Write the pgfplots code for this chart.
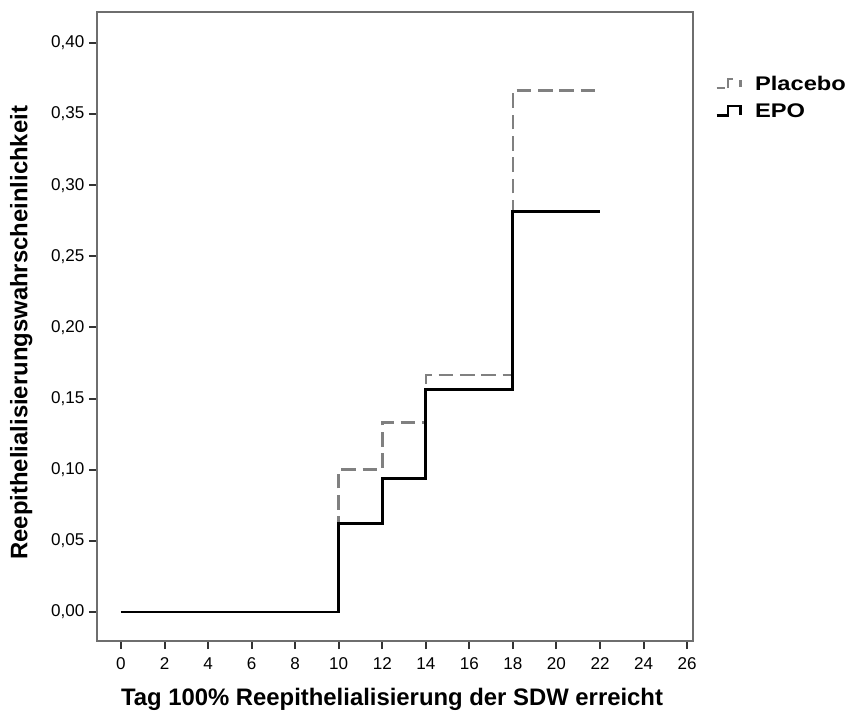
\documentclass[border=0pt]{standalone}
\usepackage{fontspec}
\setmainfont{Liberation Sans}
\newfontfamily\legfont{Liberation Sans}[FakeStretch=1.2]
\usepackage{pgfplots}
\pgfplotsset{compat=1.18}
\definecolor{plgray}{RGB}{128,128,128}
\definecolor{framegray}{RGB}{110,110,110}
\begin{document}
\begin{tikzpicture}
\useasboundingbox (-72.75pt,-54pt) rectangle (566.25pt,480.75pt);
\begin{axis}[
  scale only axis, width=447pt, height=471.75pt,
  xmin=-1.1, xmax=26.27, ymin=-0.0204, ymax=0.4218,
  xtick={0,2,4,6,8,10,12,14,16,18,20,22,24,26},
  ytick={0,0.05,0.10,0.15,0.20,0.25,0.30,0.35,0.40},
  xtick pos=left, ytick pos=left, tick align=outside,
  major tick length=6pt,
  axis line style={draw=framegray, line width=1.5pt},
  major tick style={draw=black!80, line width=1.5pt},
  /pgf/number format/assume math mode=true,
  yticklabel style={/pgf/number format/.cd, fixed, fixed zerofill, precision=2, use comma},
  xticklabel style={/pgf/number format/.cd, fixed, precision=0, /tikz/yshift=-3pt},
  ticklabel style={font=\fontsize{12.8pt}{15pt}\selectfont},
  xlabel={Tag 100\% Reepithelialisierung der SDW erreicht},
  ylabel={Reepithelialisierungswahrscheinlichkeit},
  xlabel style={font=\fontsize{17.9pt}{20pt}\selectfont\bfseries, at={(axis description cs:0.495,-0.1033)}, anchor=base},
  ylabel style={font=\fontsize{17.9pt}{20pt}\selectfont\bfseries, at={(axis description cs:-0.127,0.49)}, anchor=center, rotate=0},
  legend style={draw=none, fill=none, inner sep=0pt, at={(axis description cs:1.037,0.903)}, anchor=north west,
    font=\legfont\fontsize{14.8pt}{17pt}\selectfont\bfseries, row sep=4.5pt,
    cells={anchor=west},
    /tikz/every odd column/.append style={column sep=8pt}},
  legend cell align=left,
  clip=false,
]
\addplot[const plot, color=plgray, line width=1.9pt, dash pattern=on 11pt off 5pt,
  legend image code/.code={
    \draw[plgray, line width=1.8pt] (0pt,-3pt) -- (6pt,-3pt);
    \draw[plgray, line width=1.8pt] (8.5pt,-3pt) -- (8.5pt,4pt) -- (14pt,4pt);
    \draw[plgray, line width=1.8pt] (18pt,3pt) -- (18pt,-2pt);
  }]
  coordinates {(0,0) (10,0.1) (12,0.13333) (14,0.16667) (18,0.36667) (22,0.36667)};
\addlegendentry{Placebo}
\addplot[const plot, color=black, line width=2.2pt,
  legend image code/.code={
    \draw[black, line width=1.8pt] (0pt,-3pt) -- (8.5pt,-3pt) -- (8.5pt,4pt) -- (18pt,4pt) -- (18pt,-3pt);
  }]
  coordinates {(0,0) (10,0.0625) (12,0.09375) (14,0.15625) (18,0.28125) (22,0.28125)};
\addlegendentry{EPO}
\end{axis}
\end{tikzpicture}
\end{document}
